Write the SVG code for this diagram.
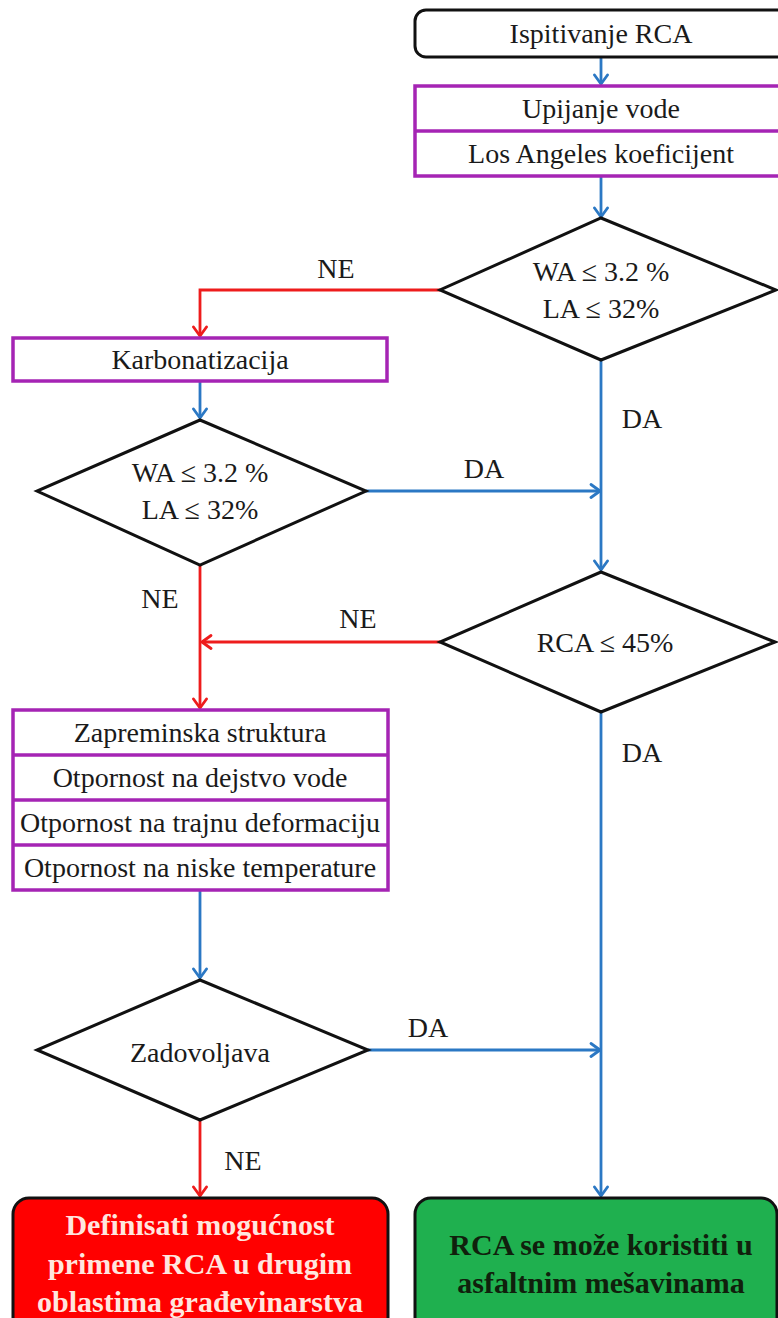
<svg xmlns="http://www.w3.org/2000/svg" width="778" height="1318" viewBox="0 0 778 1318">
  <style>
    .txt { font-family: "Liberation Serif", "Times New Roman", serif; font-size: 28px; fill: #1a1a1a; text-anchor: middle; }
    .lbl { font-family: "Liberation Serif", "Times New Roman", serif; font-size: 28px; fill: #1a1a1a; text-anchor: middle; }
    .big { font-family: "Liberation Serif", "Times New Roman", serif; font-size: 30px; font-weight: bold; text-anchor: middle; }
    .term { fill: #ffffff; stroke: #111111; stroke-width: 3; }
    .proc { fill: #ffffff; stroke: #a524b4; stroke-width: 3.5; }
    .div { stroke: #a524b4; stroke-width: 3.5; }
    .dec { fill: #ffffff; stroke: #111111; stroke-width: 3; stroke-linejoin: miter; }
    .blue { fill: none; stroke: #2b78c4; stroke-width: 2.8; }
    .red { fill: none; stroke: #ee1c1c; stroke-width: 2.8; }
  </style>
  <defs>
    <marker id="ab" markerUnits="userSpaceOnUse" markerWidth="16" markerHeight="16" viewBox="0 0 16 16" refX="14" refY="8" orient="auto">
      <path d="M5,1.5 L14,8 L5,14.5" fill="none" stroke="#2b78c4" stroke-width="2.8" stroke-linecap="round" stroke-linejoin="round"/>
    </marker>
    <marker id="ar" markerUnits="userSpaceOnUse" markerWidth="16" markerHeight="16" viewBox="0 0 16 16" refX="14" refY="8" orient="auto">
      <path d="M5,1.5 L14,8 L5,14.5" fill="none" stroke="#ee1c1c" stroke-width="2.8" stroke-linecap="round" stroke-linejoin="round"/>
    </marker>
  </defs>

  <rect width="778" height="1318" fill="#ffffff"/>

  <!-- connectors -->
  <g id="connectors">
    <path class="blue" d="M601,58 L601,84" marker-end="url(#ab)"/>
    <path class="blue" d="M601,177 L601,217" marker-end="url(#ab)"/>
    <path class="red" d="M440,290 L200,290 L200,336" marker-end="url(#ar)"/>
    <path class="blue" d="M200,382 L200,418" marker-end="url(#ab)"/>
    <path class="blue" d="M366,491 L600,491" marker-end="url(#ab)"/>
    <path class="blue" d="M601,360 L601,570" marker-end="url(#ab)"/>
    <path class="red" d="M440,642 L202,642" marker-end="url(#ar)"/>
    <path class="red" d="M200,565 L200,708" marker-end="url(#ar)"/>
    <path class="blue" d="M200,891 L200,978" marker-end="url(#ab)"/>
    <path class="blue" d="M368,1050 L600,1050" marker-end="url(#ab)"/>
    <path class="blue" d="M601,712 L601,1196" marker-end="url(#ab)"/>
    <path class="red" d="M200,1120 L200,1196" marker-end="url(#ar)"/>
    <text class="lbl" x="336" y="278">NE</text>
    <text class="lbl" x="642" y="428">DA</text>
    <text class="lbl" x="484" y="478">DA</text>
    <text class="lbl" x="160" y="608">NE</text>
    <text class="lbl" x="358" y="628">NE</text>
    <text class="lbl" x="642" y="762">DA</text>
    <text class="lbl" x="428" y="1037">DA</text>
    <text class="lbl" x="243" y="1170">NE</text>
  </g>

  <!-- start -->
  <g id="start">
    <rect class="term" x="415" y="10" width="378" height="47" rx="11"/>
    <text class="txt" x="601" y="43">Ispitivanje RCA</text>
  </g>

  <!-- first tests -->
  <g id="tests1">
    <rect class="proc" x="415" y="86" width="378" height="90"/>
    <line class="div" x1="415" y1="131" x2="793" y2="131"/>
    <text class="txt" x="601" y="118">Upijanje vode</text>
    <text class="txt" x="601" y="163">Los Angeles koeficijent</text>
  </g>

  <!-- decision 1 -->
  <g id="dec1">
    <polygon class="dec" points="601,218 776,290 601,360 440,290"/>
    <text class="txt" x="601" y="281">WA ≤ 3.2 %</text>
    <text class="txt" x="601" y="318">LA ≤ 32%</text>
  </g>

  <!-- carbonation -->
  <g id="carb">
    <rect class="proc" x="13" y="338" width="374" height="43"/>
    <text class="txt" x="200" y="369">Karbonatizacija</text>
  </g>

  <!-- decision 2 -->
  <g id="dec2">
    <polygon class="dec" points="200,420 366,491 200,565 37,491"/>
    <text class="txt" x="200" y="482">WA ≤ 3.2 %</text>
    <text class="txt" x="200" y="519">LA ≤ 32%</text>
  </g>

  <!-- decision 3 -->
  <g id="dec3">
    <polygon class="dec" points="601,572 775,642 601,712 440,642"/>
    <text class="txt" x="605" y="652">RCA ≤ 45%</text>
  </g>

  <!-- mixture tests -->
  <g id="tests2">
    <rect class="proc" x="13" y="710" width="375" height="180"/>
    <line class="div" x1="13" y1="755" x2="388" y2="755"/>
    <line class="div" x1="13" y1="800" x2="388" y2="800"/>
    <line class="div" x1="13" y1="845" x2="388" y2="845"/>
    <text class="txt" x="200" y="742">Zapreminska struktura</text>
    <text class="txt" x="200" y="787">Otpornost na dejstvo vode</text>
    <text class="txt" x="200" y="832" textLength="360" lengthAdjust="spacingAndGlyphs">Otpornost na trajnu deformaciju</text>
    <text class="txt" x="200" y="877">Otpornost na niske temperature</text>
  </g>

  <!-- decision 4 -->
  <g id="dec4">
    <polygon class="dec" points="200,980 368,1050 200,1120 37,1050"/>
    <text class="txt" x="200" y="1062">Zadovoljava</text>
  </g>

  <!-- outcome: other uses -->
  <g id="endNo">
    <rect x="13" y="1198" width="375" height="140" rx="16" fill="#ff0000" stroke="#111111" stroke-width="3"/>
    <text class="big" x="200" y="1235" fill="#ffe6df">Definisati mogućnost</text>
    <text class="big" x="200" y="1274" fill="#ffe6df">primene RCA u drugim</text>
    <text class="big" x="200" y="1312" fill="#ffe6df">oblastima građevinarstva</text>
  </g>

  <!-- outcome: asphalt -->
  <g id="endYes">
    <rect x="415" y="1198" width="362" height="140" rx="16" fill="#1fb04f" stroke="#111111" stroke-width="3"/>
    <text class="big" x="601" y="1255" fill="#10200c">RCA se može koristiti u</text>
    <text class="big" x="601" y="1293" fill="#10200c">asfaltnim mešavinama</text>
  </g>
</svg>
